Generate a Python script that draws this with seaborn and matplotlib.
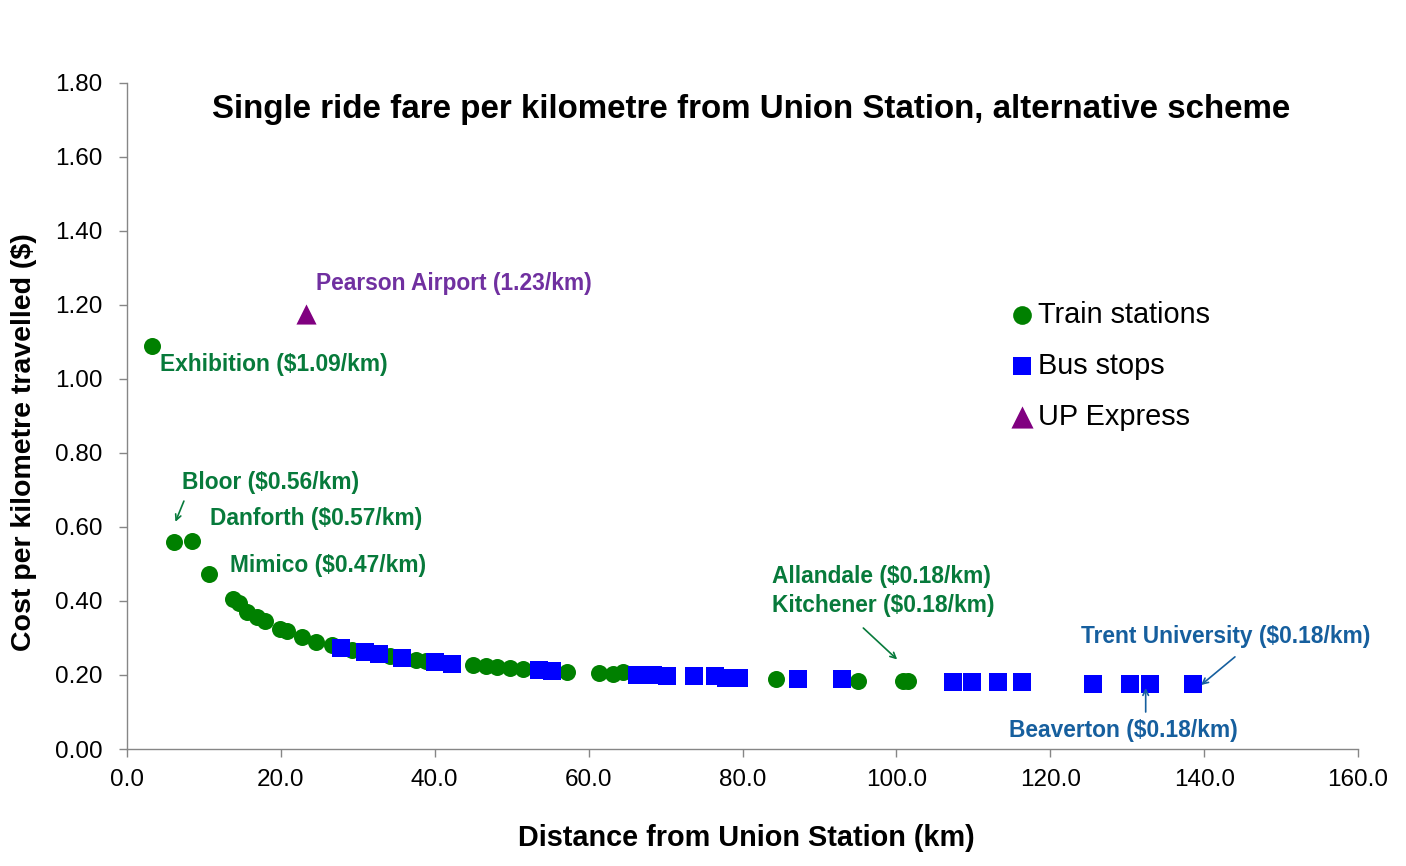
import pandas as pd
import matplotlib
matplotlib.use("Agg")
import matplotlib.pyplot as plt
import seaborn as sns

# data
train_km = [3.2, 6.15, 8.4, 10.7, 13.8, 14.5, 15.6, 16.9, 17.9, 19.9, 20.8, 22.7, 24.6, 26.6,
            29.2, 34.2, 37.6, 38.8, 45.0, 46.7, 48.1, 49.8, 51.5, 57.2, 61.3, 63.2, 64.5,
            84.3, 95.0, 100.9, 101.5]
train_cost = [1.09, 0.559, 0.563, 0.472, 0.405, 0.395, 0.371, 0.358, 0.345, 0.325, 0.318, 0.302,
              0.290, 0.281, 0.268, 0.250, 0.240, 0.237, 0.227, 0.223, 0.221, 0.219, 0.217, 0.208,
              0.205, 0.203, 0.208, 0.190, 0.185, 0.185, 0.183]

bus_km = [27.8, 31.0, 32.7, 35.8, 40.0, 42.2, 53.6, 55.2, 66.3, 68.4, 70.2, 73.7, 76.4, 77.9,
          79.6, 87.2, 92.9, 107.3, 109.8, 113.2, 116.3, 125.5, 130.4, 133.0, 138.6]
bus_cost = [0.272, 0.263, 0.256, 0.247, 0.236, 0.231, 0.213, 0.211, 0.200, 0.200, 0.198, 0.196,
            0.196, 0.193, 0.193, 0.190, 0.188, 0.182, 0.182, 0.180, 0.180, 0.177, 0.177, 0.175,
            0.175]

up_km = [23.3]
up_cost = [1.176]

sns.set_style("white")
plt.rcParams['font.family'] = ['Liberation Sans', 'DejaVu Sans']
plt.rcParams['text.color'] = 'black'
plt.rcParams['axes.labelcolor'] = 'black'
plt.rcParams['xtick.color'] = 'black'
plt.rcParams['ytick.color'] = 'black'

train = pd.DataFrame({'km': train_km, 'cost': train_cost})
bus = pd.DataFrame({'km': bus_km, 'cost': bus_cost})
up = pd.DataFrame({'km': up_km, 'cost': up_cost})

fig = plt.figure(figsize=(14.06, 8.66), dpi=100)
ax = fig.add_axes([0.0903, 0.1351, 0.8756, 0.7691])

sns.scatterplot(data=train, x='km', y='cost', ax=ax, marker='o', color='#008000',
                s=150, linewidth=0, label='Train stations', zorder=3)
sns.scatterplot(data=bus, x='km', y='cost', ax=ax, marker='s', color='#0000FF',
                s=150, linewidth=0, label='Bus stops', zorder=3)
sns.scatterplot(data=up, x='km', y='cost', ax=ax, marker='^', color='#800080',
                s=210, linewidth=0, label='UP Express', zorder=3)

ax.set_xlim(0, 160)
ax.set_ylim(0, 1.8)
ax.set_xticks([i * 20 for i in range(9)])
ax.set_xticklabels([f'{i * 20:.1f}' for i in range(9)])
ax.set_yticks([i * 0.2 for i in range(10)])
ax.set_yticklabels([f'{i * 0.2:.2f}' for i in range(10)])
ax.tick_params(axis='both', bottom=True, left=True, labelsize=17.5, length=6, width=1,
               color='#868686', labelcolor='black', direction='out')
ax.tick_params(axis='x', pad=8.5)
ax.tick_params(axis='y', pad=11.5)
for side in ['top', 'right']:
    ax.spines[side].set_visible(False)
for side in ['left', 'bottom']:
    ax.spines[side].set_color('#868686')
    ax.spines[side].set_linewidth(1)

ax.set_xlabel('Distance from Union Station (km)', fontsize=20.8, fontweight='bold')
ax.set_ylabel('Cost per kilometre travelled ($)', fontsize=20.5, fontweight='bold')
ax.xaxis.set_label_coords(0.5033, -0.113)
ax.yaxis.set_label_coords(-0.0731, 0.461)

ax.text(0.507, 0.96, 'Single ride fare per kilometre from Union Station, alternative scheme',
        transform=ax.transAxes, ha='center', va='center', fontsize=23.9, fontweight='bold')

leg = ax.legend(loc='upper left', bbox_to_anchor=(0.699, 0.712), frameon=False, fontsize=20.8,
                handlelength=0.6, handletextpad=0.25, labelspacing=0.8, markerscale=1.1)

green = '#077A3B'
purple = '#7030A0'
blue = '#165F9E'
fs = 16.4
ax.text(4.3, 1.038, 'Exhibition ($1.09/km)', color=green, fontsize=fs, fontweight='bold', va='center')
ax.text(24.6, 1.257, 'Pearson Airport (1.23/km)', color=purple, fontsize=fs, fontweight='bold', va='center')
ax.text(7.15, 0.719, 'Bloor ($0.56/km)', color=green, fontsize=fs, fontweight='bold', va='center')
ax.annotate('', xy=(6.3, 0.614), xytext=(7.4, 0.67),
            arrowprops=dict(arrowstyle='->', color=green, lw=1.2, shrinkA=0, shrinkB=0))
ax.text(10.8, 0.624, 'Danforth ($0.57/km)', color=green, fontsize=fs, fontweight='bold', va='center')
ax.text(13.4, 0.495, 'Mimico ($0.47/km)', color=green, fontsize=fs, fontweight='bold', va='center')
ax.text(83.8, 0.465, 'Allandale ($0.18/km)', color=green, fontsize=fs, fontweight='bold', va='center')
ax.text(83.8, 0.389, 'Kitchener ($0.18/km)', color=green, fontsize=fs, fontweight='bold', va='center')
ax.annotate('', xy=(100.1, 0.242), xytext=(95.7, 0.327),
            arrowprops=dict(arrowstyle='->', color=green, lw=1.2, shrinkA=0, shrinkB=0))
ax.text(124.0, 0.305, 'Trent University ($0.18/km)', color=blue, fontsize=fs, fontweight='bold', va='center')
ax.annotate('', xy=(139.6, 0.173), xytext=(144.0, 0.249),
            arrowprops=dict(arrowstyle='->', color=blue, lw=1.2, shrinkA=0, shrinkB=0))
ax.text(114.6, 0.049, 'Beaverton ($0.18/km)', color=blue, fontsize=fs, fontweight='bold', va='center')
ax.annotate('', xy=(132.4, 0.165), xytext=(132.4, 0.100),
            arrowprops=dict(arrowstyle='->', color=blue, lw=1.2, shrinkA=0, shrinkB=0))

fig.savefig('out.png', dpi=100)
